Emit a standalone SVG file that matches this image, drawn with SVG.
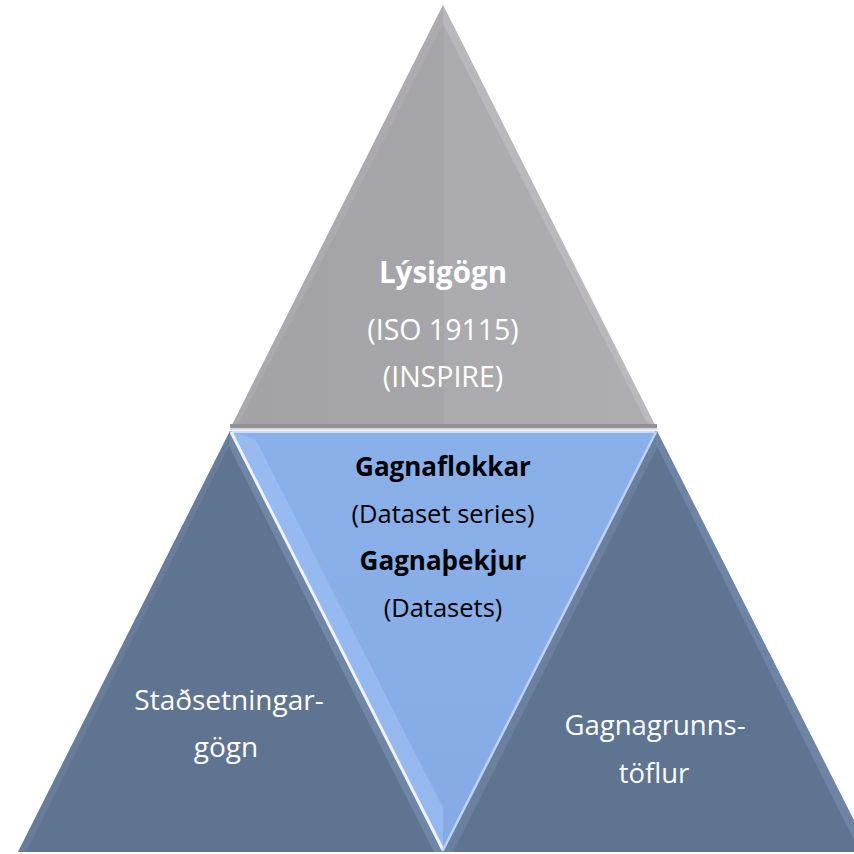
<svg xmlns="http://www.w3.org/2000/svg" width="854" height="854" viewBox="0 0 854 854">
  <defs>
    <linearGradient id="gTop" x1="0" y1="0" x2="1" y2="0">
      <stop offset="0" stop-color="#a3a2a7"/>
      <stop offset="0.5" stop-color="#a6a5aa"/>
      <stop offset="0.5" stop-color="#abaaaf"/>
      <stop offset="1" stop-color="#aeadb2"/>
    </linearGradient>
    <linearGradient id="gMid" x1="0" y1="0" x2="0" y2="1">
      <stop offset="0" stop-color="#8ab0ea"/>
      <stop offset="1" stop-color="#86abe4"/>
    </linearGradient>
    <style>
      .t { font-family: "Open Sans", "Noto Sans", sans-serif; text-anchor: middle; }
      .w { fill: #ffffff; }
      .k { fill: #000000; }
      .b { font-weight: bold; }
    </style>
  </defs>

  <g id="node-top">
    <polygon points="443,5 230,429 657,429" fill="url(#gTop)"/>
    <polygon points="443,5 443,24 646,421 657,429" fill="#c9c8cd" opacity="0.45"/>
    <polygon points="443,5 443,24 240,421 230,429" fill="#b9b8bd" opacity="0.35"/>
    <line x1="230" y1="426" x2="657" y2="426" stroke="#929196" stroke-width="4"/>
    <line x1="230" y1="429" x2="657" y2="429" stroke="#d4dbe6" stroke-width="2"/>
    <text class="t w b" x="443" y="283" font-size="29.5">Lýsigögn</text>
    <text class="t w" x="443" y="340" font-size="28.5">(ISO 19115)</text>
    <text class="t w" x="443" y="387" font-size="28.5">(INSPIRE)</text>
  </g>

  <g id="node-left">
    <polygon points="230,431 18,852 443,852" fill="#5e7491"/>
    <polygon points="230,431 229,446 434,852 443,852" fill="#7f97bb" opacity="0.5"/>
    <polygon points="230,431 18,852 26,852 231,442" fill="#7187a8" opacity="0.45"/>
    <text class="t w" x="229" y="710" font-size="28">Staðsetningar-</text>
    <text class="t w" x="226" y="757" font-size="28">gögn</text>
  </g>

  <g id="node-right">
    <polygon points="657,431 443,852 870,852" fill="#5e7491"/>
    <polygon points="657,431 658,446 453,852 443,852" fill="#7f97bb" opacity="0.35"/>
    <polygon points="657,431 870,852 860,852 656,444" fill="#7a92b6" opacity="0.55"/>
    <text class="t w" x="655" y="735" font-size="27.5">Gagnagrunns-</text>
    <text class="t w" x="654" y="783" font-size="27.5">töflur</text>
  </g>

  <g id="node-middle">
    <polygon points="230,431 657,431 443,852" fill="url(#gMid)"/>
    <polygon points="230,431 256,440 443,808 443,852" fill="#a6c7fb" opacity="0.45"/>
    <line x1="232" y1="432" x2="655" y2="432" stroke="#c9dcfa" stroke-width="2"/>
    <line x1="231" y1="432" x2="443" y2="850" stroke="#eef2f8" stroke-width="3"/>
    <line x1="656" y1="432" x2="443" y2="850" stroke="#bcd2f3" stroke-width="2.5"/>
    <text class="t k b" x="443" y="476" font-size="26">Gagnaflokkar</text>
    <text class="t k" x="443" y="523" font-size="25.5">(Dataset series)</text>
    <text class="t k b" x="443" y="570" font-size="26">Gagnaþekjur</text>
    <text class="t k" x="443" y="617" font-size="25.5">(Datasets)</text>
  </g>

  <g id="connectors"></g>
</svg>
